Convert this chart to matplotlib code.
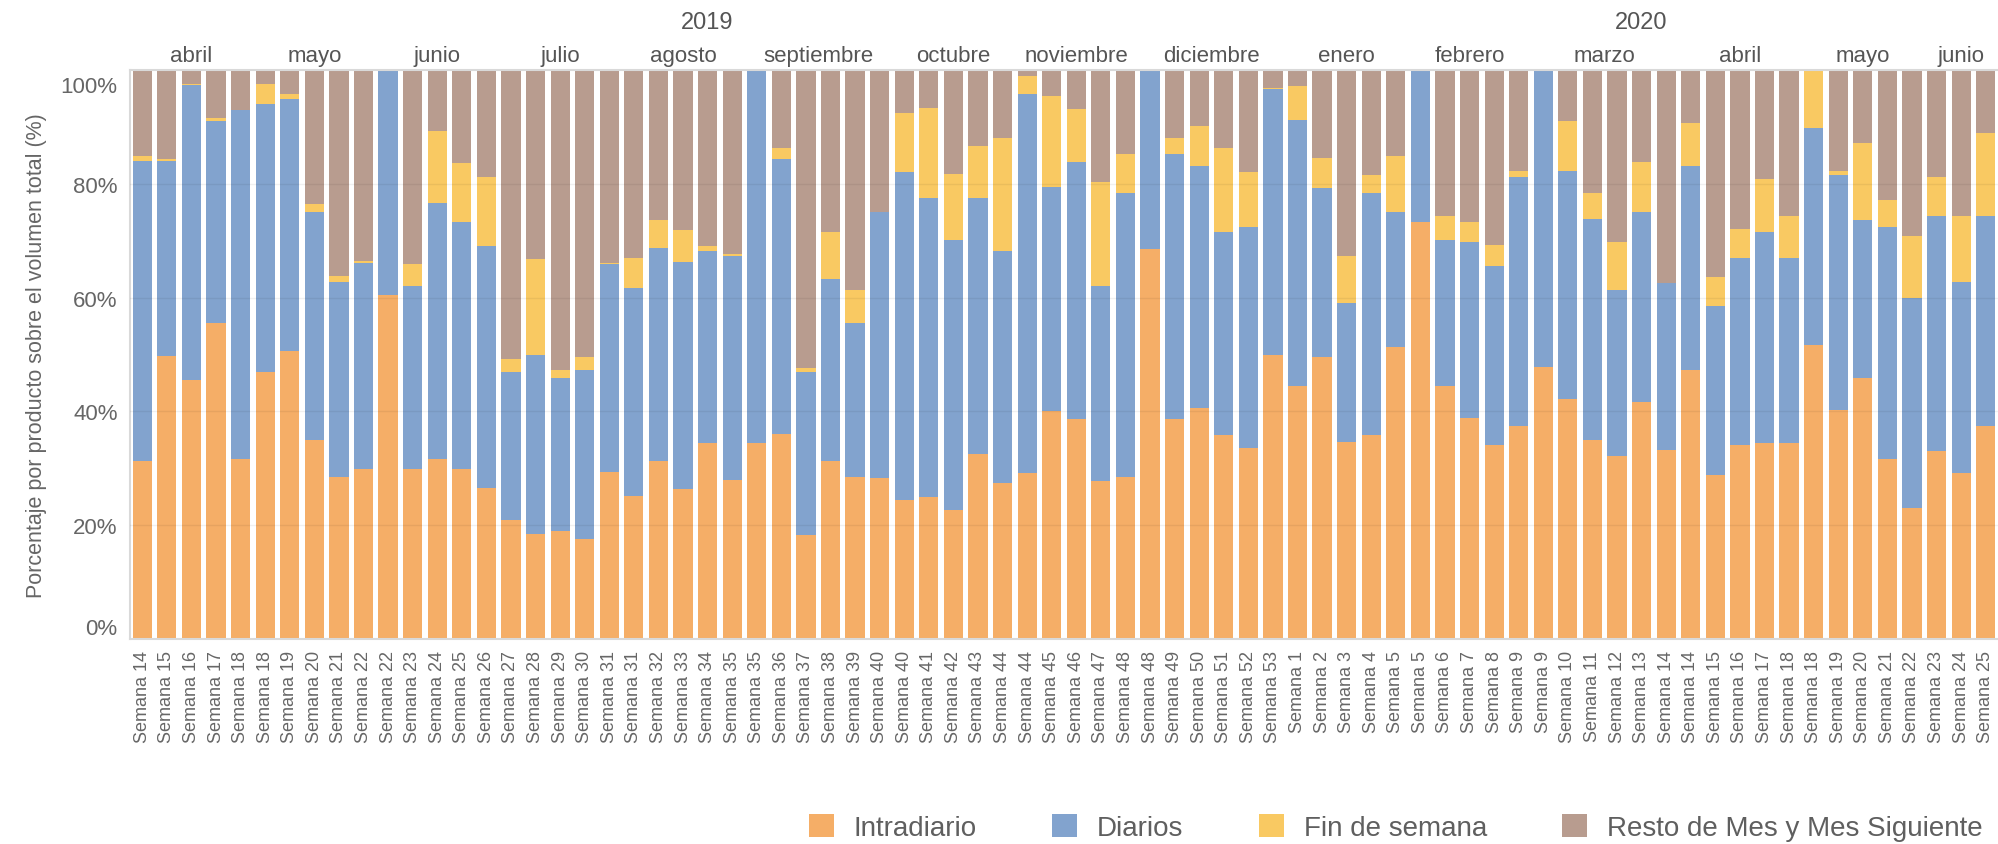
import matplotlib
matplotlib.use("Agg")
import matplotlib.pyplot as plt
from matplotlib.patches import Patch
from matplotlib.transforms import ScaledTranslation
import numpy as np

plt.rcParams['font.family'] = ['Liberation Sans', 'DejaVu Sans']

weeks = [14, 15, 16, 17, 18, 18, 19, 20, 21, 22, 22, 23, 24, 25, 26, 27, 28, 29, 30, 31, 31,
         32, 33, 34, 35, 35, 36, 37, 38, 39, 40, 40, 41, 42, 43, 44, 44, 45, 46, 47, 48, 48,
         49, 50, 51, 52, 53,
         1, 2, 3, 4, 5, 5, 6, 7, 8, 9, 9, 10, 11, 12, 13, 14, 14, 15, 16, 17, 18, 18,
         19, 20, 21, 22, 23, 24, 25]

months = ['abril', 'mayo', 'junio', 'julio', 'agosto', 'septiembre', 'octubre', 'noviembre',
          'diciembre', 'enero', 'febrero', 'marzo', 'abril', 'mayo', 'junio']
month_bars = [5, 5, 5, 5, 5, 6, 5, 5, 6, 5, 5, 6, 5, 5, 3]
years = ['2019', '2020']
year_bars = [47, 29]

intradiario = [31.3, 49.7, 45.6, 55.6, 31.6, 47.0, 50.6, 35.0, 28.5, 29.9, 60.4, 29.9, 31.6, 29.9,
               26.6, 21.0, 18.4, 19.0, 17.6, 29.4, 25.2, 31.3, 26.3, 34.4, 28.0, 34.4, 36.1, 18.2,
               31.3, 28.5, 28.3, 24.4, 24.9, 22.7, 32.5, 27.4, 29.1, 40.0, 38.6, 27.7, 28.5, 68.5,
               38.6, 40.6, 35.8, 33.6, 50.0,
               44.4, 49.5, 34.7, 35.8, 51.4, 73.3, 44.4, 38.9, 34.1, 37.5, 47.8, 42.2, 35.0, 32.2,
               41.7, 33.3, 47.3, 28.8, 34.1, 34.4, 34.4, 51.7, 40.3, 45.8, 31.6, 23.0, 33.0, 29.1,
               37.5]
diarios = [52.7, 34.3, 51.7, 35.5, 61.3, 47.0, 44.3, 40.0, 34.2, 36.2, 39.6, 32.1, 45.1, 43.4,
           42.5, 26.0, 31.6, 26.8, 29.6, 36.5, 36.5, 37.5, 40.0, 33.8, 39.3, 65.6, 48.2, 28.8,
           32.0, 27.1, 46.7, 57.7, 52.6, 47.5, 45.0, 40.8, 66.6, 39.5, 45.2, 34.3, 49.9, 31.5,
           46.6, 42.6, 35.7, 38.8, 46.6,
           46.8, 29.7, 24.3, 42.6, 23.6, 26.7, 25.7, 30.9, 31.5, 43.7, 52.2, 40.1, 38.8, 29.2,
           33.3, 29.3, 35.9, 29.7, 32.9, 37.1, 32.6, 38.1, 41.2, 27.8, 40.8, 37.0, 41.4, 33.7,
           36.9]
fin_semana = [0.9, 0.4, 0.3, 0.4, 0.0, 3.6, 0.8, 1.4, 1.1, 0.3, 0.0, 3.9, 12.5, 10.4,
              12.1, 2.2, 16.7, 1.4, 2.3, 0.2, 5.3, 4.8, 5.6, 0.9, 0.3, 0.0, 2.0, 0.6,
              8.2, 5.7, 0.0, 10.4, 15.9, 11.6, 9.1, 19.8, 3.2, 15.9, 9.3, 18.4, 6.8, 0.0,
              2.8, 6.9, 14.8, 9.7, 0.3,
              6.0, 5.4, 8.3, 3.1, 9.9, 0.0, 4.3, 3.5, 3.6, 1.1, 0.0, 8.8, 4.6, 8.4,
              8.8, 0.0, 7.4, 5.1, 5.1, 9.4, 7.4, 10.2, 0.8, 13.6, 4.8, 10.9, 6.8, 11.6,
              14.5]
resto = [15.1, 15.6, 2.4, 8.5, 7.1, 2.4, 4.3, 23.6, 36.2, 33.6, 0.0, 34.1, 10.8, 16.3,
         18.8, 50.8, 33.3, 52.8, 50.5, 33.9, 33.0, 26.4, 28.1, 30.9, 32.4, 0.0, 13.7, 52.4,
         28.5, 38.7, 25.0, 7.5, 6.6, 18.2, 13.4, 12.0, 1.1, 4.6, 6.9, 19.6, 14.8, 0.0,
         12.0, 9.9, 13.7, 17.9, 3.1,
         2.8, 15.4, 32.7, 18.5, 15.1, 0.0, 25.6, 26.7, 30.8, 17.7, 0.0, 8.9, 21.6, 30.2,
         16.2, 37.4, 9.4, 36.4, 27.9, 19.1, 25.6, 0.0, 17.7, 12.8, 22.8, 29.1, 18.8, 25.6,
         11.1]

series = ['Intradiario', 'Diarios', 'Fin de semana', 'Resto de Mes y Mes Siguiente']
colors = ['#F5AE67', '#82A3CE', '#F9C962', '#B89C8F']

fig = plt.figure(figsize=(19.98, 8.45), dpi=100)
ax = fig.add_axes([130 / 1998, 1 - 640 / 845, 1 - 130 / 1998, 569 / 845])

x = np.arange(len(weeks))
bottom = np.zeros(len(weeks))
for vals, col in zip([intradiario, diarios, fin_semana, resto], colors):
    vals = np.array(vals)
    ax.bar(x, vals, 0.78, bottom=bottom, color=col, zorder=2)
    bottom += vals

ax.set_xlim(-0.5, len(weeks) - 0.5)
ax.set_ylim(0, 100)

for g in [20, 40, 60, 80]:
    ax.axhline(g, color='black', alpha=0.06, lw=1, zorder=3)

ax.spines['right'].set_visible(False)
for s in ['left', 'bottom', 'top']:
    ax.spines[s].set_color('#d9d9d9')
    ax.spines[s].set_linewidth(1.5)

ax.set_yticks([0, 20, 40, 60, 80, 100])
ax.set_yticklabels(['0%', '20%', '40%', '60%', '80%', '100%'])
ax.tick_params(axis='y', length=0, pad=9, labelsize=16, labelcolor='#666666')
ylabs = ax.get_yticklabels()
ylabs[0].set_va('bottom')
ylabs[-1].set_va('top')
ylabs[-1].set_transform(ylabs[-1].get_transform() + ScaledTranslation(0, -0.06, fig.dpi_scale_trans))

ax.set_xticks(x)
ax.set_xticklabels(['Semana %d' % w for w in weeks], rotation=90)
ax.tick_params(axis='x', length=0, pad=8, labelsize=13, labelcolor='#666666')

ax.set_ylabel('Porcentaje por producto sobre el volumen total (%)', fontsize=15.5,
              color='#666666', labelpad=10)

# cabeceras de mes y año
start = 0
for m, n in zip(months, month_bars):
    ax.text(start + (n - 1) / 2, 1.026, m, transform=ax.get_xaxis_transform(),
            ha='center', va='center', fontsize=16, color='#555555')
    start += n
start = 0
for yr, n in zip(years, year_bars):
    ax.text(start + (n - 1) / 2, 1.084, yr, transform=ax.get_xaxis_transform(),
            ha='center', va='center', fontsize=17, color='#555555')
    start += n

handles = [Patch(facecolor=c, edgecolor='none') for c in colors]
fig.legend(handles, series, ncol=4, loc='center left', bbox_to_anchor=(809 / 1998, 0.02),
           frameon=False, fontsize=20, labelcolor='#5f5f5f', borderpad=0, borderaxespad=0,
           handlelength=0.9, handleheight=0.9, handletextpad=0.72, columnspacing=2.7)

fig.savefig('out.png', dpi=100)
